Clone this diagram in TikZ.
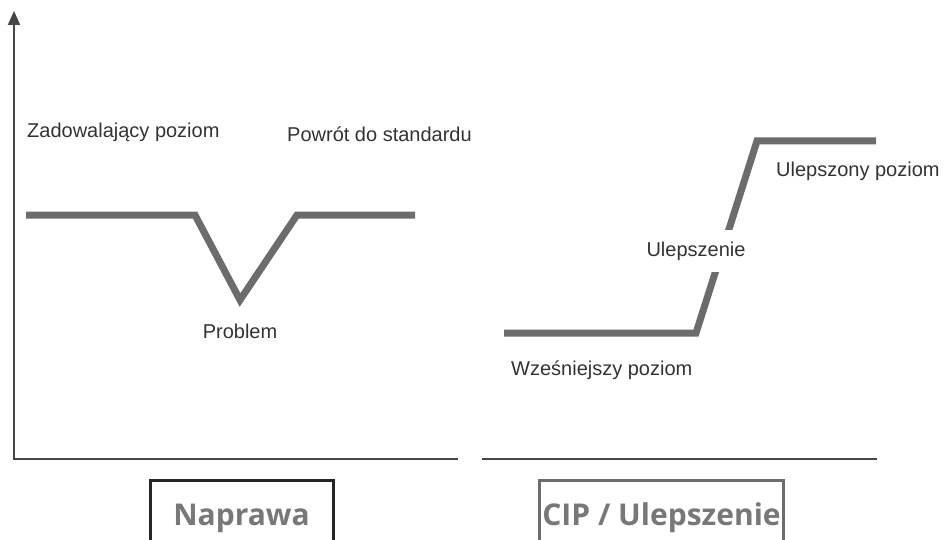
\documentclass[tikz,border=0pt]{standalone}
\usepackage{fontspec}
\setmainfont{Liberation Sans}
\newfontfamily\tagfont{Open Sans}
\usetikzlibrary{arrows.meta}

\begin{document}
\begin{tikzpicture}[
  x=1pt, y=-1pt,
  lvl/.style={line width=7pt, draw=lvlgray, line join=miter},
  axs/.style={line width=2pt, draw=axgray},
  lbl/.style={font=\fontsize{20}{24}\selectfont, text=black!80, inner sep=0pt, anchor=base west},
  tag/.style={line width=3pt, minimum width=183pt, minimum height=74pt, text=tagtxt,
    text height=24pt, text depth=8pt, font=\tagfont\bfseries\fontsize{30}{34}\selectfont},
]
\definecolor{lvlgray}{RGB}{108,108,108}
\definecolor{axgray}{RGB}{70,70,70}
\definecolor{tagtxt}{RGB}{120,120,120}

\useasboundingbox (0,0) rectangle (944,540);
\clip (0,0) rectangle (944,540);

\draw [axs, -{Triangle[length=14pt,width=12pt]}] (458,459) -- (14,459) -- (14,11);
\draw [axs] (482,459) -- (877,459);

\draw [lvl] (26,215) -- (195,215) -- (240,300) -- (297,215) -- (415,215);
\draw [lvl] (504,333) -- (696,333) -- (757,141) -- (876,141);

\node [lbl] (zad) at (27,138) {Zadowalający poziom};
\node [lbl] (pow) at (287,142) {Powrót do standardu};
\node [lbl, anchor=base] (prob) at (240,338) {Problem};

\node [lbl] (ulp) at (776,177) {Ulepszony poziom};
\node [lbl, anchor=center, fill=white, minimum height=42pt] (ulep) at (696,251) {Ulepszenie};
\node [lbl] (wcz) at (511,375) {Wześniejszy poziom};

\node [tag, draw=black!85] (napr) at (241.5,517) {Naprawa};
\node [tag, draw=lvlgray] (cip) at (661.5,517) {CIP / Ulepszenie};

\end{tikzpicture}
\end{document}
